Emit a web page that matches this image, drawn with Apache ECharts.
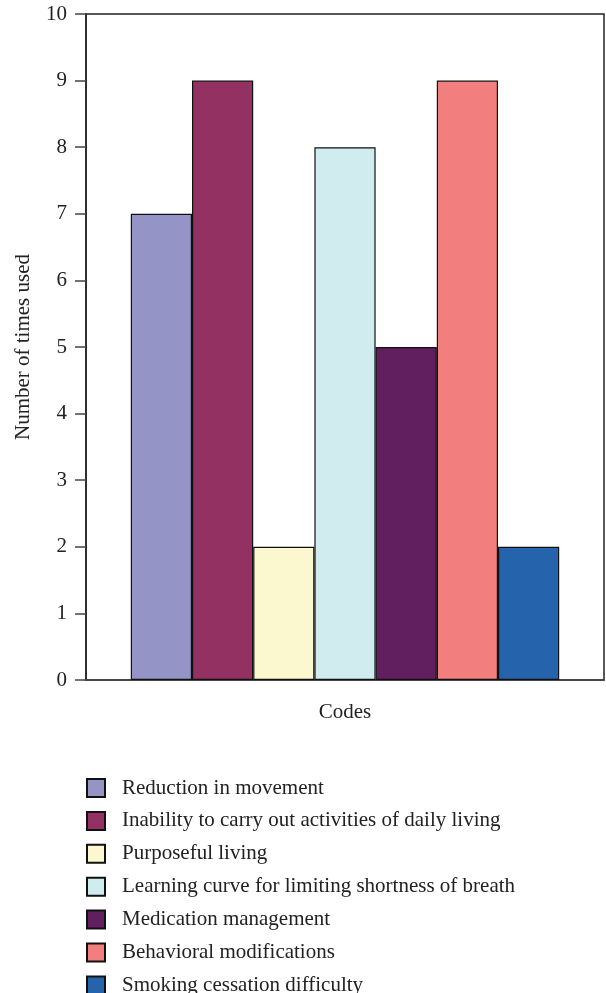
<!DOCTYPE html>
<html><head><meta charset="utf-8">
<script src="https://cdn.jsdelivr.net/npm/echarts@6/dist/echarts.min.js"></script>
<style>html,body{margin:0;padding:0;background:#fff}#c{width:606px;height:993px}</style>
</head><body><div id="c"></div>
<script>
const codes = ["Reduction in movement","Inability to carry out activities of daily living","Purposeful living","Learning curve for limiting shortness of breath","Medication management","Behavioral modifications","Smoking cessation difficulty"];
const counts = [7, 9, 2, 8, 5, 9, 2];
const colors = ["#9494c6","#933262","#fbf7cf","#d0ecef","#621f5f","#f37e7e","#2563ad"];
const yTicks = [0,1,2,3,4,5,6,7,8,9,10];
const font = "Liberation Serif";
const chart = echarts.init(document.getElementById('c'));
chart.setOption({
  animation:false,
  textStyle:{fontFamily:font},
  grid:{left:86,right:2,top:14,bottom:313,show:true,borderColor:'#222',borderWidth:1.5,containLabel:false,outerBoundsMode:'none'},
  xAxis:{type:'category',data:['Codes'],name:'Codes',nameLocation:'middle',nameGap:22,
    nameTextStyle:{fontFamily:font,fontSize:21,color:'#222'},
    axisLabel:{show:false},axisTick:{show:false},axisLine:{lineStyle:{color:'#444',width:1.5}}},
  yAxis:{type:'value',min:0,max:10,interval:1,name:'Number of times used',nameLocation:'middle',nameGap:52,
    nameTextStyle:{fontFamily:font,fontSize:21,color:'#222'},
    axisLabel:{fontFamily:font,fontSize:21,color:'#222',margin:19,formatter:v=>yTicks.includes(v)?String(v):''},
    axisTick:{show:true,length:11,lineStyle:{color:'#444',width:1.5}},
    axisLine:{show:true,lineStyle:{color:'#222',width:1.5}},splitLine:{show:false}},
  legend:{orient:'vertical',left:86,top:777,height:400,padding:0,itemWidth:18,itemHeight:18,itemGap:10.9,icon:'rect',
    textStyle:{fontFamily:font,fontSize:21,color:'#222',lineHeight:22,padding:[0,0,0,12]},
    data:codes},
  series:codes.map((c,i)=>({name:c,type:'bar',barWidth:61.2,barGap:'0%',
    data:[counts[i]],
    itemStyle:{color:colors[i],borderColor:'#111',borderWidth:1.2}}))
});
</script></body></html>
